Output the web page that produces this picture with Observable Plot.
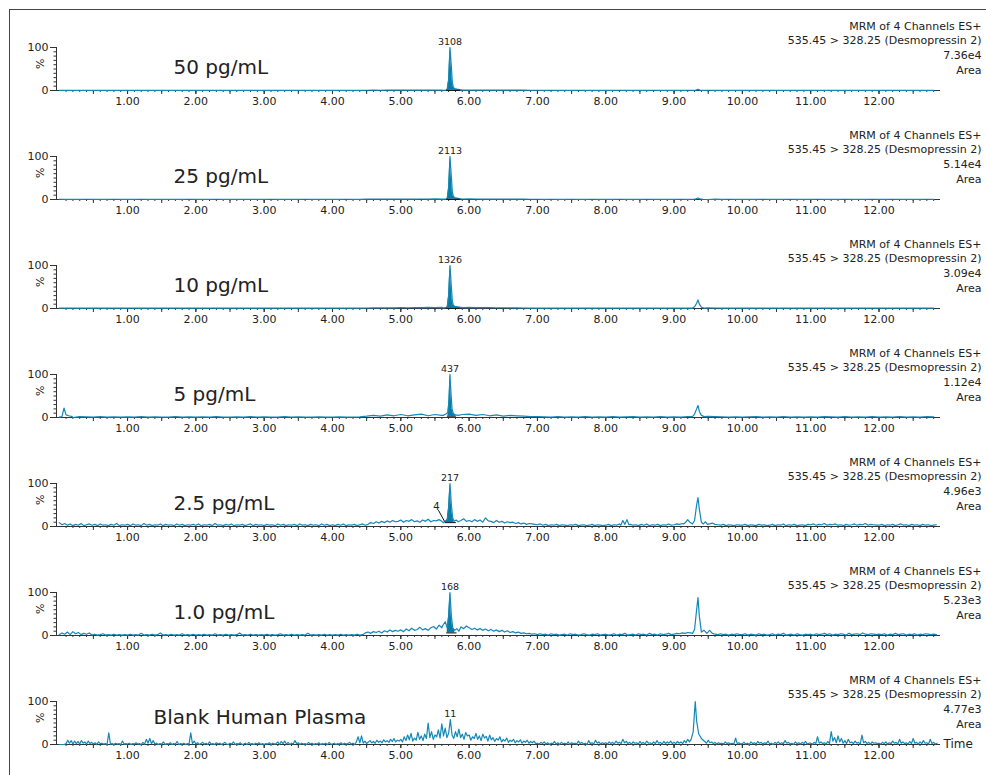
<!DOCTYPE html>
<html><head><meta charset="utf-8">
<script src="https://cdn.jsdelivr.net/npm/d3@7"></script>
<script src="https://cdn.jsdelivr.net/npm/@observablehq/plot@0.6"></script>
<style>
body{margin:0;background:#fff;width:986px;height:775px;overflow:hidden;position:relative;font-family:"DejaVu Sans",Verdana,sans-serif;}
#frame{position:absolute;left:9px;top:9px;width:1000px;height:800px;border-left:1px solid #444;border-top:1px solid #444;pointer-events:none;}
#panels{position:absolute;left:0;top:0;}
#panels svg{display:block;}
</style></head><body>
<div id="panels"></div><div id="frame"></div>
<script>
// ---------- text / labels ----------
const panelNames = ["50 pg/mL","25 pg/mL","10 pg/mL","5 pg/mL","2.5 pg/mL","1.0 pg/mL","Blank Human Plasma"];
const areaLabels = ["7.36e4","5.14e4","3.09e4","1.12e4","4.96e3","5.23e3","4.77e3"];
const peakLabels = ["3108","2113","1326","437","217","168","11"];
const peakApexT = [5.72,5.72,5.72,5.72,5.72,5.72,5.725];
const peakApexY = [100,100,100,100,100,100,58];
const channelLine1 = "MRM of 4 Channels ES+";
const channelLine2 = "535.45 > 328.25 (Desmopressin 2)";
const xTickLabels = [1,2,3,4,5,6,7,8,9,10,11,12];
const yTickLabels = [0,100];
const sampleStep = [0.1,0.1,0.1,0.1,0.04,0.04,0.025];
// integration window: [start, end, baseline %] (null = none)
const integWindows = [[5.67,5.86,0.6],[5.67,5.86,0.6],[5.67,5.86,0.8],[5.68,5.80,3],[5.65,5.80,9],[5.67,5.81,6],null];

// ---------- baseline noise (rows = one minute each, % of full scale) ----------
const noise50 = [
[0.5,0.4,0.5,0.4,0.3,0.5,0.4,0.4,0.5,0.4],
[0.4,0.5,0.3,0.4,0.5,0.4,0.3,0.4,0.5,0.4],
[0.5,0.4,0.4,0.3,0.5,0.4,0.5,0.3,0.4,0.4],
[0.4,0.3,0.5,0.4,0.4,0.5,0.3,0.4,0.4,0.5],
[0.4,0.5,0.4,0.3,0.4,0.6,0.7,0.6,0.8,0.7],
[0.8,0.9,0.7,1.0,0.9,1.1,1.0,1.2,1.1,1.3],
[1.2,1.0,1.1,0.9,0.8,1.0,0.9,0.8,0.7,0.6],
[0.6,0.5,0.6,0.5,0.4,0.5,0.6,0.4,0.5,0.5],
[0.4,0.5,0.6,0.4,0.5,0.4,0.5,0.6,0.4,0.5],
[0.5,0.4,0.6,0.7,0.0,0.6,0.5,0.4,0.5,0.4],
[0.4,0.5,0.4,0.3,0.5,0.4,0.4,0.5,0.3,0.4],
[0.4,0.3,0.5,0.4,0.4,0.5,0.4,0.3,0.4,0.5],
[0.4,0.5,0.3,0.4,0.5,0.4,0.4,0.3,0.5]];
const noise25 = [
[0.6,0.5,0.4,0.5,0.6,0.4,0.5,0.4,0.6,0.5],
[0.4,0.5,0.6,0.4,0.5,0.3,0.5,0.4,0.5,0.6],
[0.5,0.4,0.5,0.6,0.4,0.5,0.4,0.3,0.5,0.4],
[0.5,0.6,0.4,0.5,0.4,0.5,0.6,0.4,0.5,0.4],
[0.5,0.4,0.6,0.5,0.4,0.7,0.8,0.7,0.9,0.8],
[1.0,0.9,1.1,1.2,1.0,1.3,1.1,1.4,1.2,1.3],
[1.4,1.2,1.1,1.0,0.9,1.0,0.8,0.9,0.7,0.6],
[0.6,0.5,0.6,0.4,0.5,0.6,0.5,0.4,0.6,0.5],
[0.5,0.4,0.6,0.5,0.4,0.5,0.6,0.5,0.4,0.5],
[0.5,0.6,0.5,0.8,0.0,0.0,0.7,0.5,0.6,0.5],
[0.5,0.4,0.5,0.6,0.4,0.5,0.4,0.6,0.5,0.4],
[0.5,0.6,0.4,0.5,0.4,0.6,0.5,0.4,0.5,0.6],
[0.4,0.5,0.6,0.4,0.5,0.4,0.5,0.6,0.4]];
const noise10 = [
[1.0,0.8,1.0,0.7,0.9,0.8,1.0,0.7,0.9,0.8],
[0.9,0.7,1.0,0.8,0.9,0.7,0.8,1.0,0.8,0.9],
[0.8,1.0,0.7,0.9,0.8,1.0,0.8,0.7,0.9,0.8],
[0.9,0.8,1.0,0.7,0.9,0.8,0.7,1.0,0.8,0.9],
[0.8,0.9,0.7,1.0,0.8,1.2,1.5,1.3,1.8,1.6],
[2.0,1.7,2.2,1.9,2.4,2.1,2.6,2.2,2.5,2.8],
[2.4,2.1,2.3,1.9,1.7,1.8,1.5,1.3,1.2,1.0],
[1.0,0.8,0.9,1.0,0.8,0.9,0.7,1.0,0.8,0.9],
[0.8,1.0,0.9,0.7,1.0,0.8,0.9,1.0,0.8,0.9],
[1.0,0.9,1.1,0.0,0.0,1.5,1.2,1.0,0.9,0.8],
[0.9,0.8,1.0,0.7,0.9,0.8,1.0,0.8,0.7,0.9],
[0.8,1.0,0.9,0.8,0.7,0.9,1.0,0.8,0.9,0.8],
[0.9,0.8,1.0,0.7,0.9,0.8,0.9,1.0,0.8]];
const noise5 = [
[1,0,0,2,1.5,1,2,1,1.5,1],
[1.5,1,2,1,1.5,1,1,2,1,1.5],
[1,1.5,1,2,1,1,1.5,1,2,1],
[1.5,1,1,2,1,1.5,1,1,1.5,1],
[1,1.5,1,1,1.5,3,5,3,6,4],
[7,4,6,8,4,7,5,9,5,7],
[8,5,7,4,6,3,5,4,3,2],
[2,1.5,1,2,1,1.5,1,2,1,1.5],
[1,2,1,1.5,2,1,1.5,1,2,1],
[1.5,1,2,0,0,2.5,2,1.5,1,1.5],
[1,1.5,2,1,1.5,1,2,1,1.5,1],
[1.5,1,2,1.5,1,2,1,1.5,1,2],
[1,1.5,1,2,1,1.5,1,2,1.5]];
const noise2p5 = [
[9,4,7,3,6,2,5,3,7,2,4,6,3,5,2,6,3,4,2,5,3,7,2,4,3],
[5,2,6,3,4,2,7,3,5,2,4,3,6,2,5,3,4,2,6,3,5,2,4,3,5],
[3,6,2,4,3,5,2,7,3,4,2,5,3,6,2,4,3,5,2,4,6,2,5,3,4],
[2,5,3,4,2,6,3,5,2,4,3,5,2,6,3,4,2,5,3,4,2,6,3,5,2],
[4,2,5,3,6,2,4,3,5,2,4,6,3,5,9,7,11,8,12,9,13,10,14,11,12],
[15,10,14,12,16,11,13,10,15,12,17,11,14,13,16,12,0,0,0,0,0,0,14,18,12],
[14,11,16,12,15,10,20,13,12,9,14,10,12,8,11,9,10,7,9,6,8,5,7,6,5],
[4,6,3,5,2,4,3,5,2,4,3,2,4,3,5,2,3,4,2,3,5,2,4,3,2],
[3,5,2,4,3,6,0,0,0,5,3,4,2,5,3,6,2,4,3,5,2,4,3,6,3],
[4,6,5,7,0,0,0,0,0,0,0,0,0,6,8,5,4,3,5,2,4,3,2,4,3],
[3,5,2,4,3,2,5,3,4,2,3,5,2,4,3,6,2,4,3,5,2,3,4,2,5],
[4,6,3,5,4,7,3,5,4,6,3,4,2,5,3,4,6,3,5,4,7,3,5,4,3],
[3,5,2,4,3,5,2,4,6,3,4,2,5,3,4,2,5,3,4,2,3,4]];
const noise1p0 = [
[2,6,3,8,2,9,4,7,2,5,3,6,1,3,1,2,4,1,2,1,3,1,2,1,2],
[1,3,1,2,1,5,1,2,1,3,1,2,6,1,2,1,3,1,2,1,4,1,2,1,3],
[1,2,1,3,1,2,1,4,1,2,1,3,1,2,1,2,6,1,2,1,3,1,2,1,2],
[1,3,1,2,1,2,4,1,2,1,3,1,2,1,2,1,5,1,2,1,2,1,3,1,2],
[1,2,1,3,1,2,1,2,1,3,1,2,6,8,5,9,7,10,6,11,8,13,9,12,10],
[13,9,15,11,17,12,14,19,13,16,12,18,21,15,24,18,0,0,0,0,0,0,20,16,22],
[18,14,17,13,16,12,15,11,14,10,13,9,12,8,11,7,9,6,8,5,6,4,5,3,4],
[2,4,2,3,1,4,2,3,1,2,3,1,4,2,3,1,2,4,2,1,3,2,4,1,2],
[3,1,2,4,1,3,2,5,1,2,3,1,4,2,3,1,5,2,3,1,4,2,3,5,2],
[3,5,4,6,5,7,6,0,0,0,0,0,0,12,5,3,2,4,2,3,1,3,2,4,2],
[2,4,1,3,2,1,4,2,3,1,2,4,1,3,2,5,1,2,3,1,4,2,1,3,2],
[3,1,4,2,3,5,2,4,1,3,2,4,3,1,5,2,3,4,2,6,3,2,4,3,2],
[3,2,4,1,3,2,5,2,3,4,1,3,2,4,1,3,2,4,3,2,3,2]];
const noiseBlank = [
[0,0,0,0,2,10,3,9,1,8,2,7,1,9,3,6,1,8,2,5,1,4,0,6,2,3,1,2,0,27,1,2,0,3,1,2,0,8,1,2],
[1,3,0,2,1,4,1,2,0,5,1,12,3,14,2,9,1,3,0,2,1,6,0,2,1,4,0,2,1,7,0,2,1,3,0,2,1,27,2,8],
[1,4,0,2,5,1,3,0,6,1,2,0,4,1,3,0,2,5,1,0,3,1,6,0,2,1,4,0,1,3,0,5,1,2,0,3,1,4,0,2],
[0,2,1,4,0,3,1,2,6,0,7,2,8,1,5,0,3,1,9,2,4,0,3,1,2,0,5,1,3,0,2,1,4,0,2,1,3,0,5,1],
[1,3,0,2,1,4,0,3,1,2,5,1,3,0,6,18,4,20,3,8,2,6,9,4,7,3,10,5,8,4,11,6,9,5,12,7,14,6,10,8],
[12,6,18,9,22,11,26,8,15,10,28,12,20,9,24,14,50,16,30,12,22,18,34,15,48,20,38,16,26,58,22,14,30,18,36,16,24,12,28,20],
[22,10,18,14,26,12,20,9,24,15,19,8,22,11,16,7,14,10,18,6,12,8,15,5,10,7,12,4,9,6,11,3,8,5,10,3,7,4,8,2],
[3,1,5,2,6,1,4,0,3,2,7,1,4,0,5,2,3,1,6,0,4,2,3,1,8,2,5,1,3,0,9,2,4,1,10,3,6,1,4,2],
[4,1,6,2,5,1,8,3,5,2,12,4,7,2,5,1,6,3,4,1,7,2,5,1,8,3,4,1,6,2,9,3,5,1,7,2,6,3,8,2],
[5,2,7,3,6,2,9,4,12,6,0,0,0,0,0,0,0,0,7,3,10,4,6,2,5,1,4,2,3,1,6,2,4,1,3,1,15,2,4,1],
[2,5,1,3,0,6,2,4,1,7,3,5,1,4,2,8,1,3,0,5,2,6,1,4,2,9,3,5,1,3,0,6,2,4,1,5,2,7,1,3],
[3,1,5,2,18,3,6,2,4,1,7,2,30,8,16,4,20,6,14,3,9,2,12,4,6,2,8,3,5,1,22,4,7,2,5,1,6,3,4,2],
[3,1,5,2,6,1,4,2,8,3,5,1,12,3,6,2,4,1,7,2,14,3,5,1,6,2,9,3,4,1,12,2,5,1,3]];

// ---------- peaks [time (min), %] ----------
const peak50 = [[5.62,0.6],[5.66,1],[5.68,3],[5.70,25],[5.72,100],[5.74,55],[5.755,18],[5.77,7],[5.79,4],[5.82,3],[5.86,2],[5.90,1]];
const peak25 = [[5.62,0.7],[5.66,1],[5.68,3],[5.70,28],[5.72,100],[5.74,52],[5.755,17],[5.77,7],[5.79,4],[5.82,3],[5.86,2],[5.90,1.2]];
const peak10 = [[5.62,1.5],[5.66,2],[5.68,4],[5.70,30],[5.72,100],[5.74,50],[5.755,16],[5.77,7],[5.79,5],[5.82,4],[5.86,3],[5.90,2]];
const peak5 = [[5.62,5],[5.66,8],[5.69,12],[5.705,40],[5.72,100],[5.735,55],[5.75,20],[5.77,9],[5.80,6],[5.84,5]];
const peak2p5 = [[5.62,9],[5.65,12],[5.68,16],[5.70,45],[5.72,100],[5.74,50],[5.76,20],[5.78,12],[5.81,15],[5.84,11]];
const peak1p0 = [[5.62,25],[5.65,32],[5.68,18],[5.70,45],[5.72,100],[5.74,45],[5.76,18],[5.79,12],[5.82,16],[5.85,10]];
const minor50 = [[9.29,0.5],[9.32,1],[9.35,2.5],[9.38,1],[9.42,0.5]];
const minor25 = [[9.29,0.6],[9.32,1.5],[9.35,3.5],[9.38,1.5],[9.42,0.6]];
const minor10 = [[9.27,1],[9.30,4],[9.33,12],[9.35,20],[9.37,10],[9.40,3],[9.44,1]];
const minor5 = [[9.27,2],[9.30,8],[9.33,20],[9.35,28],[9.37,14],[9.40,5],[9.44,2]];
const bump2p5a = [[8.22,3],[8.25,14],[8.28,5],[8.31,16],[8.34,4]];
const bump2p5b = [[9.14,6],[9.17,10],[9.20,16],[9.23,10],[9.26,7]];
const minor2p5 = [[9.27,6],[9.30,14],[9.33,50],[9.35,67],[9.37,40],[9.40,10],[9.43,6],[9.46,11],[9.49,5]];
const minor1p0 = [[9.27,5],[9.30,14],[9.33,60],[9.35,88],[9.37,45],[9.40,8],[9.44,12],[9.48,5]];
const minorBlank = [[9.25,12],[9.28,30],[9.31,100],[9.33,55],[9.36,25],[9.40,14],[9.44,8]];
const spike5 = [[0.04,2],[0.07,22],[0.10,6],[0.14,4],[0.19,2]];
// small side-peak annotation in the 2.5 pg/mL trace
const sideLabel2p5 = {t: 5.52, v: 46, text: "4"};
const sideLink2p5 = {t1: 5.55, v1: 38, t2: 5.64, v2: 12};

const noiseRows = [noise50, noise25, noise10, noise5, noise2p5, noise1p0, noiseBlank];
const featureSets = [
  [peak50, minor50], [peak25, minor25], [peak10, minor10], [spike5, peak5, minor5],
  [peak2p5, bump2p5a, bump2p5b, minor2p5], [peak1p0, minor1p0], [minorBlank]
];

// ---------- build ----------
const lineColor = "#1488b6", fillColor = "#097ca5", inkColor = "#222";
const xDomain = [-0.04, 12.9];
const xMinor = d3.range(0.1, 12.85, 0.1);
const xMid = d3.range(0.5, 12.85, 0.5);
const yMinor = [10,20,30,40,50,60,70,80,90];

function buildTrace(rows, step, features) {
  const windows = features.map(f => [f[0][0], f[f.length - 1][0]]);
  const pts = [];
  rows.forEach((row, m) => row.forEach((v, j) => {
    const t = +(m + j * step).toFixed(3);
    if (windows.some(([a, b]) => t >= a && t <= b)) return;
    pts.push({t, v});
  }));
  features.forEach(f => f.forEach(([t, v]) => pts.push({t, v})));
  pts.sort((a, b) => a.t - b.t);
  return pts;
}

const host = document.getElementById("panels");
panelNames.forEach((name, i) => {
  const trace = buildTrace(noiseRows[i], sampleStep[i], featureSets[i]);
  const integ = integWindows[i];
  const last = i === panelNames.length - 1;
  const marks = [
    Plot.axisX({ticks: xMinor, tickSize: 2, text: null, label: null, stroke: "#333"}),
    Plot.axisX({ticks: xMid, tickSize: 4, text: null, label: null, stroke: "#333"}),
    Plot.axisX({ticks: xTickLabels, tickSize: 4, tickPadding: 3, tickFormat: d => d.toFixed(2), fontSize: 11, label: null, stroke: "#333"}),
    Plot.axisY({ticks: yMinor, tickSize: 2.5, text: null, label: null, stroke: "#333"}),
    Plot.axisY({ticks: yTickLabels, tickSize: 6, tickPadding: 2, fontSize: 11, label: null, stroke: "#333"}),
    Plot.ruleX([xDomain[0]], {stroke: "#333"}),
    Plot.ruleY([0], {stroke: "#333"}),
  ];
  if (integ) {
    const [a, b, lvl] = integ;
    const fillPts = trace.filter(d => d.t >= a && d.t <= b);
    marks.push(Plot.areaY(fillPts, {x: "t", y1: () => lvl, y2: "v", fill: fillColor, curve: "linear"}));
  }
  marks.push(Plot.line(trace, {x: "t", y: "v", stroke: lineColor, strokeWidth: 1.2}));
  if (integ) {
    const [a, b, lvl] = integ;
    marks.push(Plot.line([{t: a, v: lvl}, {t: b, v: lvl}], {x: "t", y: "v", stroke: "#111", strokeWidth: 1}));
  }
  marks.push(
    Plot.text([{t: peakApexT[i], v: peakApexY[i], label: peakLabels[i]}], {x: "t", y: "v", text: "label", dy: -6, fontSize: 9.5, fill: inkColor}),
    Plot.text(["%"], {text: d => d, frameAnchor: "left", dx: -16, rotate: -90, fontSize: 11, fill: inkColor}),
    Plot.text([name], {text: d => d, frameAnchor: "top-left", dx: last ? 97 : 117, dy: last ? 16 : 20, textAnchor: "start", lineAnchor: "middle", fontSize: 20, fill: inkColor}),
    Plot.text([`${channelLine1}\n${channelLine2}\n${areaLabels[i]}\nArea`], {text: d => d, frameAnchor: "top-right", dx: 41, dy: -0.5, textAnchor: "end", lineAnchor: "middle", lineHeight: 1.34, fontSize: 11, fill: inkColor})
  );
  if (i === 4) {
    marks.push(
      Plot.text([sideLabel2p5], {x: "t", y: "v", text: "text", fontSize: 10, fill: inkColor}),
      Plot.link([sideLink2p5], {x1: "t1", y1: "v1", x2: "t2", y2: "v2", stroke: "#111", strokeWidth: 1})
    );
  }
  if (last) {
    marks.push(Plot.text(["Time"], {text: d => d, frameAnchor: "bottom-right", dx: 3, textAnchor: "start", lineAnchor: "middle", fontSize: 12, fill: inkColor}));
  }
  const svg = Plot.plot({
    width: 986, height: 109,
    marginLeft: 56, marginRight: 46, marginTop: 47, marginBottom: 19,
    x: {domain: xDomain},
    y: {domain: [0, 100]},
    style: {background: "transparent", fontFamily: "'DejaVu Sans', Verdana, sans-serif", color: inkColor, overflow: "visible"},
    marks
  });
  host.appendChild(svg);
});
</script></body></html>
